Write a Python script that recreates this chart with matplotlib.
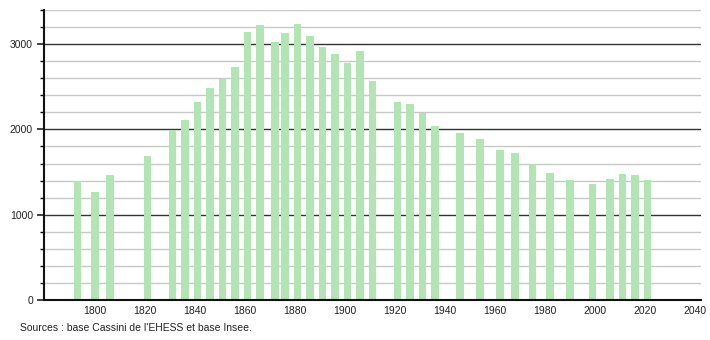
import matplotlib
matplotlib.use("Agg")
import matplotlib.pyplot as plt
import numpy as np

# census years and population
years = [1793, 1800, 1806, 1821, 1831, 1836, 1841, 1846, 1851, 1856,
         1861, 1866, 1872, 1876, 1881, 1886, 1891, 1896, 1901, 1906,
         1911, 1921, 1926, 1931, 1936, 1946, 1954, 1962, 1968, 1975,
         1982, 1990, 1999, 2006, 2011, 2016, 2021]
population = [1400, 1262, 1470, 1686, 1992, 2110, 2318, 2482, 2596, 2729,
              3145, 3224, 3027, 3133, 3235, 3094, 2968, 2882, 2776, 2921,
              2568, 2318, 2294, 2196, 2035, 1953, 1890, 1753, 1718, 1598,
              1490, 1412, 1365, 1424, 1482, 1467, 1412]
x_ticks = [1800, 1820, 1840, 1860, 1880, 1900, 1920, 1940, 1960, 1980, 2000, 2020, 2040]
y_major = [0, 1000, 2000, 3000]
y_minor = [200, 400, 600, 800, 1200, 1400, 1600, 1800, 2200, 2400, 2600, 2800, 3200, 3400]
source_text = "Sources : base Cassini de l'EHESS et base Insee."

plt.rcParams['font.family'] = ['Liberation Sans', 'DejaVu Sans']

fig = plt.figure(figsize=(7.1, 3.4), dpi=100)
ax = fig.add_axes([0.062, 0.1176, 0.925, 0.853])

# grid lines
for v in y_minor:
    ax.axhline(v, color='#c8c8c8', lw=1.0, zorder=0)
for v in y_major[1:]:
    ax.axhline(v, color='#333333', lw=1.0, zorder=0)

ax.bar(years, population, width=3.0, color='#b3e4b3', zorder=2)

ax.set_xlim(1779.6, 2042.3)
ax.set_ylim(0, 3400)

ax.set_xticks(x_ticks)
ax.set_xticklabels([str(t) for t in x_ticks])
ax.set_yticks(y_major)
ax.set_yticklabels([str(t) for t in y_major])
ax.set_yticks(y_minor, minor=True)

ax.tick_params(axis='x', length=0, labelsize=7.5, pad=4, colors='#222222')
ax.tick_params(axis='y', which='major', length=5, width=1.2, labelsize=7.5, pad=3, colors='#222222')
ax.tick_params(axis='y', which='minor', length=3, width=1.0)

for side in ['top', 'right']:
    ax.spines[side].set_visible(False)
ax.spines['left'].set_linewidth(1.5)
ax.spines['bottom'].set_linewidth(1.5)
ax.spines['left'].set_color('#111111')
ax.spines['bottom'].set_color('#111111')

fig.text(20 / 710, 1 - 328 / 340, source_text, fontsize=7.5, color='#222222',
         ha='left', va='center')

fig.savefig('out.png', dpi=100)
